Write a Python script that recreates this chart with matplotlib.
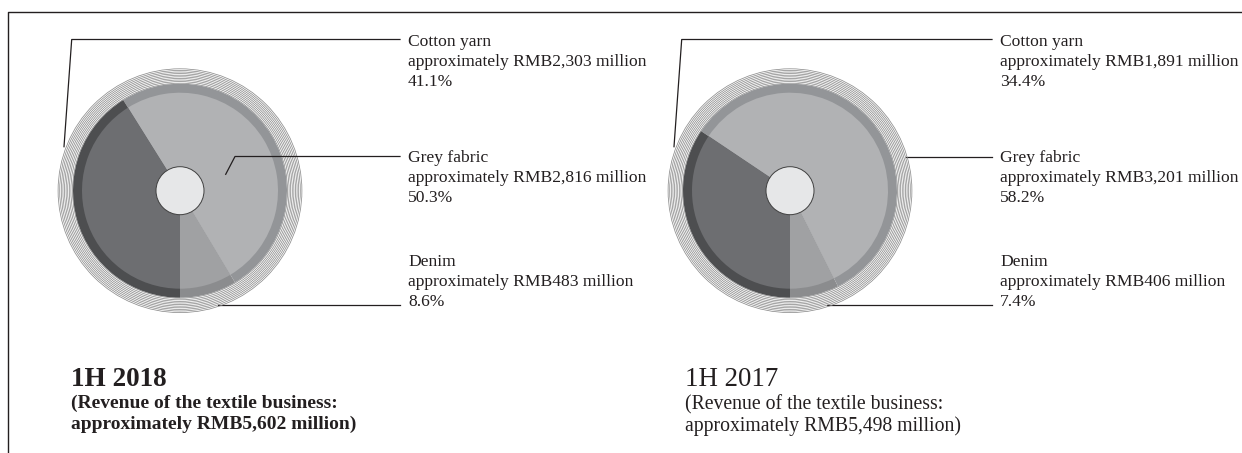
import matplotlib
matplotlib.use("Agg")
import matplotlib.pyplot as plt
from matplotlib.patches import Circle
import numpy as np

# ---- data ----
categories = ["Denim", "Grey fabric", "Cotton yarn"]
share_2018 = [8.6, 50.3, 41.1]
share_2017 = [7.4, 58.2, 34.4]
amount_2018 = ["RMB483", "RMB2,816", "RMB2,303"]
amount_2017 = ["RMB406", "RMB3,201", "RMB1,891"]
pct_2018 = ["8.6%", "50.3%", "41.1%"]
pct_2017 = ["7.4%", "58.2%", "34.4%"]
title_2018 = "1H 2018"
title_2017 = "1H 2017"
sub_2018 = ["(Revenue of the textile business:", "approximately RMB5,602 million)"]
sub_2017 = ["(Revenue of the textile business:", "approximately RMB5,498 million)"]

inner_colors = ["#a0a1a3", "#b1b2b4", "#6d6e71"]
ring_colors = ["#8b8c8e", "#939598", "#4d4e50"]
LINE = "#231f20"
FONT = "Liberation Serif"

W, H = 1242, 453
fig = plt.figure(figsize=(W / 100, H / 100), dpi=100)
ax = fig.add_axes([0, 0, 1, 1])


def Y(py):
    return H - py


def draw_pie(cx, cy, shares):
    c = (cx, Y(cy))
    # concentric thin rings
    for r in np.arange(107.5, 122.5, 1.6):
        ax.add_patch(Circle(c, r, fill=False, ec="#8c8c8c", lw=0.55, zorder=2))
    ax.pie(shares, colors=ring_colors, startangle=-90, counterclock=True,
           radius=107, center=c, frame=True,
           wedgeprops=dict(linewidth=0, zorder=3))
    ax.pie(shares, colors=inner_colors, startangle=-90, counterclock=True,
           radius=98, center=c, frame=True,
           wedgeprops=dict(linewidth=0, zorder=4))
    ax.add_patch(Circle(c, 24, fc="#e6e7e8", ec="#404040", lw=0.7, zorder=6))


draw_pie(180, 190.7, share_2018)
draw_pie(790, 190.7, share_2017)

lw = 0.9
# leader lines, left pie
ax.plot([64, 71.7, 400], [Y(146.7), Y(39.5), Y(39.5)], color=LINE, lw=lw, zorder=1)
ax.plot([225.7, 235, 400], [Y(174.3), Y(156.5), Y(156.5)], color=LINE, lw=lw, zorder=7)
ax.plot([218, 400], [Y(305), Y(305)], color=LINE, lw=lw, zorder=1)
# leader lines, right pie
ax.plot([674, 681.7, 992], [Y(146.7), Y(39.5), Y(39.5)], color=LINE, lw=lw, zorder=1)
ax.plot([906, 992], [Y(156.5), Y(156.5)], color=LINE, lw=lw, zorder=1)
ax.plot([826.7, 992], [Y(305), Y(305)], color=LINE, lw=lw, zorder=1)

# border
ax.plot([7.5, 7.5, W], [0, Y(11.7), Y(11.7)], color=LINE, lw=1.0, zorder=1)

# labels
label_y = {"Cotton yarn": 42, "Grey fabric": 158, "Denim": 262}
fs = 12.6
for x0, amounts, pcts in [(408, amount_2018, pct_2018), (1000, amount_2017, pct_2017)]:
    for i, cat in enumerate(categories):
        y0 = label_y[cat]
        lines = [cat, f"approximately {amounts[i]} million", pcts[i]]
        for k, t in enumerate(lines):
            ax.text(x0, Y(y0 + 20 * k), t, fontsize=fs, family=FONT,
                    color="#231f20", ha="left", va="center")

# titles
ax.text(71, Y(380), title_2018, fontsize=19.6, family=FONT, weight="bold",
        color="#231f20", ha="left", va="center")
for k, t in enumerate(sub_2018):
    ax.text(71, Y(403 + 21 * k), t, fontsize=14, family=FONT, weight="bold",
            color="#231f20", ha="left", va="center")
ax.text(685, Y(379), title_2017, fontsize=19.4, family=FONT,
        color="#231f20", ha="left", va="center")
for k, t in enumerate(sub_2017):
    ax.text(685, Y(405 + 21 * k), t, fontsize=14.2, family=FONT,
            color="#231f20", ha="left", va="center")

ax.set_xlim(0, W)
ax.set_ylim(0, H)
ax.set_aspect("auto")
ax.axis("off")

fig.savefig("out.png", dpi=100)
